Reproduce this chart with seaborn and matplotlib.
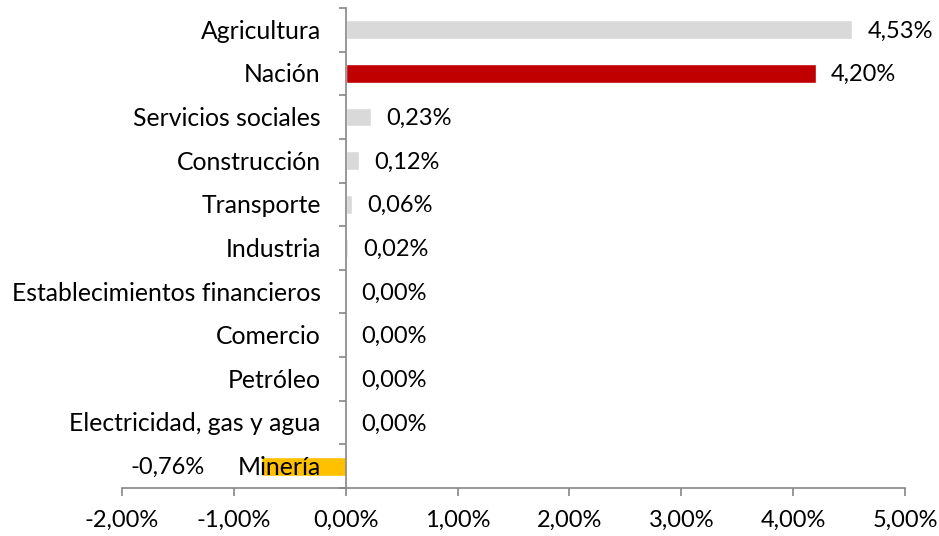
import numpy as np
import pandas as pd
import matplotlib
matplotlib.use('Agg')
import matplotlib.pyplot as plt
import seaborn as sns

sectors = ['Agricultura', 'Nación', 'Servicios sociales', 'Construcción',
           'Transporte', 'Industria', 'Establecimientos financieros',
           'Comercio', 'Petróleo', 'Electricidad, gas y agua', 'Minería']
values = [4.53, 4.20, 0.23, 0.12, 0.06, 0.02, 0.00, 0.00, 0.00, 0.00, -0.76]
colors = ['#D9D9D9', '#C00000', '#D9D9D9', '#D9D9D9', '#D9D9D9', '#D9D9D9',
          '#D9D9D9', '#D9D9D9', '#D9D9D9', '#D9D9D9', '#FFC000']
xticks = [-2, -1, 0, 1, 2, 3, 4, 5]

FS = 17
FS_CAT = 17.8

sns.set_theme(style='white')
plt.rcParams['font.family'] = ['Lato', 'DejaVu Sans']

df = pd.DataFrame({'sector': sectors, 'value': values})

fig = plt.figure(figsize=(9.39, 5.36), dpi=100)
ax = fig.add_axes([122 / 939, 1 - 488 / 536, (905 - 122) / 939, (488 - 8) / 536])

sns.barplot(data=df, x='value', y='sector', hue='sector', palette=colors,
            orient='h', width=0.43, legend=False, ax=ax, saturation=1)

ax.set_xlim(-2, 5)
ax.set_ylim(len(sectors) - 0.5, -0.5)
ax.set_xlabel('')
ax.set_ylabel('')

# axis styling: y spine at zero, ticks at category boundaries
axis_color = '#868686'
for side in ['top', 'right']:
  ax.spines[side].set_visible(False)
ax.spines['left'].set_position(('data', 0))
ax.spines['left'].set_color(axis_color)
ax.spines['bottom'].set_color(axis_color)
ax.spines['left'].set_linewidth(1.2)
ax.spines['bottom'].set_linewidth(1.2)

ax.set_xticks(xticks)
ax.set_xticklabels([f'{t:.2f}%'.replace('.', ',') for t in xticks])
ax.tick_params(axis='x', bottom=True, length=6, width=1.2, color=axis_color,
               labelsize=FS, pad=10, labelcolor='black')

ax.set_yticks(np.arange(len(sectors)))
ax.set_yticklabels([])
ax.set_yticks(np.arange(len(sectors) + 1) - 0.5, minor=True)
ax.tick_params(axis='y', which='major', left=False)
ax.tick_params(axis='y', which='minor', left=True, length=5, width=1.2,
               color=axis_color)

# category labels next to the zero line
for i, name in enumerate(sectors):
  ax.annotate(name, xy=(0, i), xytext=(-18, -1), textcoords='offset points',
              ha='right', va='center', fontsize=FS_CAT, color='black')

# data labels
for i, v in enumerate(values):
  txt = f'{v:.2f}%'.replace('.', ',')
  if v < 0:
    ax.annotate(txt, xy=(v, i), xytext=(-40, -1), textcoords='offset points',
                ha='right', va='center', fontsize=FS, color='black')
  else:
    ax.annotate(txt, xy=(v, i), xytext=(11, -1), textcoords='offset points',
                ha='left', va='center', fontsize=FS, color='black')

fig.savefig('out.png', dpi=100)
